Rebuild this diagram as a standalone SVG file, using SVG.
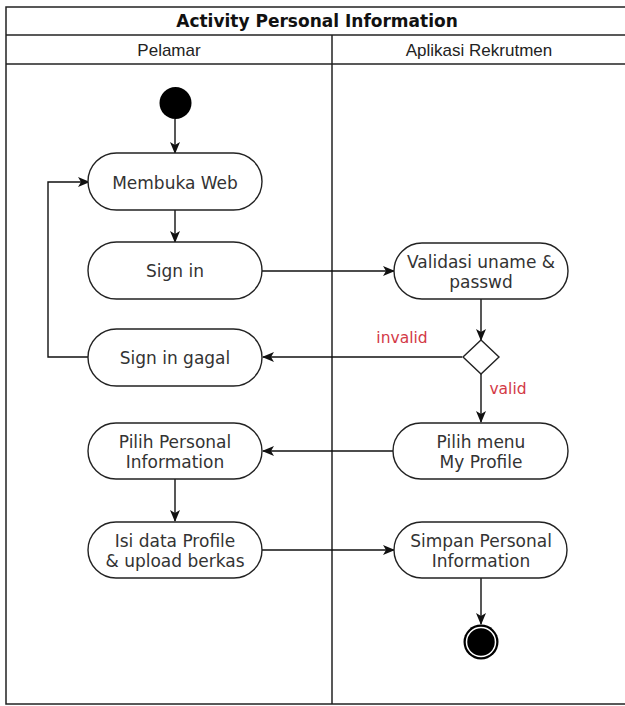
<svg xmlns="http://www.w3.org/2000/svg" width="625" height="706" viewBox="0 0 625 706">
<defs>
<style>
.frame{fill:none;stroke:#222;stroke-width:1.5}
.node rect{fill:#fff;stroke:#222;stroke-width:1.4}
.node text{font-family:"DejaVu Sans",Verdana,sans-serif;font-size:17px;fill:#333;text-anchor:middle}
.title{font-family:"DejaVu Sans",Tahoma,sans-serif;font-weight:bold;font-size:17px;fill:#111;text-anchor:middle}
.hdr{font-family:"Liberation Sans",Arial,sans-serif;font-size:17px;fill:#222;text-anchor:middle}
.edge{fill:none;stroke:#111;stroke-width:1.4;marker-end:url(#arr)}
.lbl{font-family:"DejaVu Sans",Verdana,sans-serif;font-size:15.5px;fill:#d33a47;text-anchor:middle}
</style>
<marker id="arr" viewBox="0 0 12 10" refX="11" refY="5" markerWidth="12" markerHeight="10" markerUnits="userSpaceOnUse" orient="auto">
<path d="M0,0 L12,5 L0,10 L3,5 z" fill="#111"/>
</marker>
</defs>
<rect width="625" height="706" fill="#fff"/>
<g id="pool">
<rect class="frame" x="6" y="7" width="621" height="697"/>
<line class="frame" x1="6" y1="35" x2="627" y2="35"/>
<line class="frame" x1="6" y1="64" x2="627" y2="64"/>
<line class="frame" x1="332" y1="35" x2="332" y2="704"/>
<text class="title" x="317" y="27">Activity Personal Information</text>
<text class="hdr" x="169" y="56">Pelamar</text>
<text class="hdr" x="479" y="56">Aplikasi Rekrutmen</text>
</g>
<g id="edges">
<line class="edge" x1="175" y1="119" x2="175" y2="153"/>
<line class="edge" x1="175" y1="210" x2="175" y2="242"/>
<line class="edge" x1="262" y1="271" x2="394" y2="271"/>
<line class="edge" x1="481" y1="299" x2="481" y2="340"/>
<line class="edge" x1="462" y1="357" x2="263" y2="357"/>
<path class="edge" d="M88,357 H48 V182 H89"/>
<line class="edge" x1="481" y1="374" x2="481" y2="422"/>
<line class="edge" x1="393" y1="451" x2="263" y2="451"/>
<line class="edge" x1="175" y1="479" x2="175" y2="521"/>
<line class="edge" x1="262" y1="550" x2="394" y2="550"/>
<line class="edge" x1="481" y1="578" x2="481" y2="624"/>
<text class="lbl" x="402" y="343">invalid</text>
<text class="lbl" x="508" y="394">valid</text>
</g>
<g id="start"><circle cx="175.5" cy="103" r="16" fill="#000"/></g>
<g id="membuka" class="node"><rect x="88" y="153" width="174" height="57" rx="28.5"/><text x="175" y="189">Membuka Web</text></g>
<g id="signin" class="node"><rect x="88" y="242" width="174" height="57" rx="28.5"/><text x="175" y="276.5">Sign in</text></g>
<g id="gagal" class="node"><rect x="88" y="329" width="174" height="57" rx="28.5"/><text x="175" y="363.5">Sign in gagal</text></g>
<g id="pilihpersonal" class="node"><rect x="88" y="423" width="174" height="56" rx="28"/><text x="175" y="447.5">Pilih Personal</text><text x="175" y="467.5">Information</text></g>
<g id="isidata" class="node"><rect x="88" y="522" width="174" height="56" rx="28"/><text x="175" y="546.5">Isi data Profile</text><text x="175" y="566.5">&amp; upload berkas</text></g>
<g id="validasi" class="node"><rect x="394" y="243" width="174" height="56" rx="28"/><text x="481" y="267.5">Validasi uname &amp;</text><text x="481" y="287.5">passwd</text></g>
<g id="decision"><polygon points="481,340 499,357 481,374 463,357" fill="#fff" stroke="#222" stroke-width="1.4"/></g>
<g id="pilihmenu" class="node"><rect x="393" y="423" width="175" height="56" rx="28"/><text x="481" y="447.5">Pilih menu</text><text x="481" y="467.5">My Profile</text></g>
<g id="simpan" class="node"><rect x="394" y="522" width="173" height="56" rx="28"/><text x="481" y="546.5">Simpan Personal</text><text x="481" y="566.5">Information</text></g>
<g id="end"><circle cx="481" cy="642" r="17.5" fill="#000"/><circle cx="481" cy="642" r="14.5" fill="none" stroke="#fff" stroke-width="1.5"/></g>
</svg>
